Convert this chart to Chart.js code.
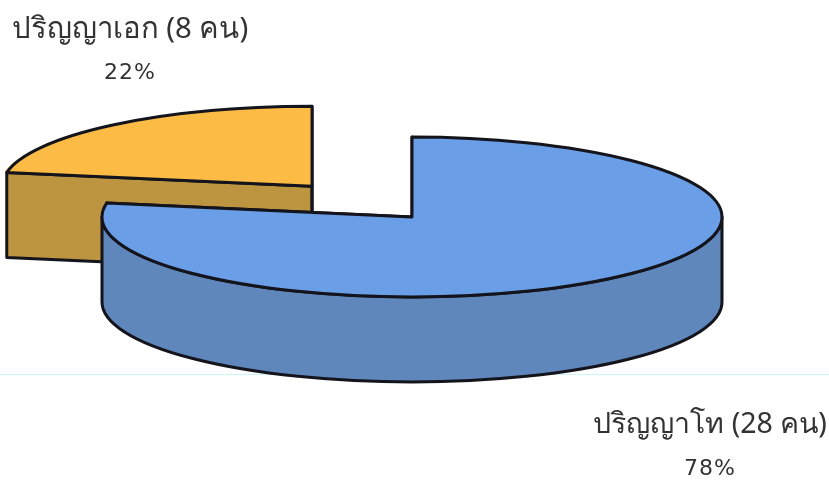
<!DOCTYPE html>
<html>
<head>
<meta charset="utf-8">
<style>
  html, body { margin: 0; padding: 0; background: #fff; }
  canvas { display: block; }
</style>
<script src="https://cdn.jsdelivr.net/npm/chart.js@4"></script>
</head>
<body>
<canvas id="piechart" width="829" height="483"></canvas>
<script>
var categories = ['ปริญญาเอก (8 คน)', 'ปริญญาโท (28 คน)'];
var people = [8, 28];
var percents = ['22%', '78%'];

var squash = 0.258;   // ellipse height / width
var depth = 85;       // wall height in px

function halfAngle(arc) { return (arc.startAngle + arc.endAngle) / 2; }

// centre of a slice after its explode offset, in screen px
function sliceCentre(arc) {
  var off = (arc.options.offset || 0) / 4;
  var a = halfAngle(arc);
  return {
    x: arc.x + Math.cos(a) * off,
    y: arc.y + Math.sin(a) * off * squash
  };
}

function topPath(ctx, arc) {
  var c = sliceCentre(arc), r = arc.outerRadius;
  ctx.beginPath();
  ctx.moveTo(c.x, c.y);
  ctx.ellipse(c.x, c.y, r, r * squash, 0, arc.startAngle, arc.endAngle);
  ctx.closePath();
}

function radialWall(ctx, arc, angle, color) {
  var c = sliceCentre(arc), r = arc.outerRadius;
  var px = c.x + Math.cos(angle) * r, py = c.y + Math.sin(angle) * r * squash;
  ctx.beginPath();
  ctx.moveTo(c.x, c.y);
  ctx.lineTo(px, py);
  ctx.lineTo(px, py + depth);
  ctx.lineTo(c.x, c.y + depth);
  ctx.closePath();
  ctx.fillStyle = color;
  ctx.fill();
  ctx.stroke();
}

function frontWall(ctx, arc, color) {
  var c = sliceCentre(arc), r = arc.outerRadius;
  var a0 = Math.max(arc.startAngle, 0), a1 = Math.min(arc.endAngle, Math.PI);
  if (a1 <= a0) return;
  ctx.beginPath();
  ctx.ellipse(c.x, c.y, r, r * squash, 0, a0, a1);
  ctx.ellipse(c.x, c.y + depth, r, r * squash, 0, a1, a0, true);
  ctx.closePath();
  ctx.fillStyle = color;
  ctx.fill();
  ctx.stroke();
}

var pie3d = {
  id: 'pie3d',
  beforeDraw: function(chart) {
    // faint scan line across the page
    chart.ctx.fillStyle = '#cff3f8';
    chart.ctx.fillRect(0, 374, chart.width, 1);
  },
  beforeDatasetDraw: function(chart, args) {
    var ctx = chart.ctx;
    var wallColors = chart.data.datasets[args.index].wallColor;
    args.meta.data.forEach(function(arc, i) {
      ctx.save();
      ctx.lineWidth = 3;
      ctx.lineJoin = 'round';
      ctx.strokeStyle = '#14141c';
      radialWall(ctx, arc, arc.startAngle, wallColors[i]);
      radialWall(ctx, arc, arc.endAngle, wallColors[i]);
      frontWall(ctx, arc, wallColors[i]);
      ctx.restore();

      // the slice itself, flattened
      ctx.save();
      ctx.translate(0, arc.y);
      ctx.scale(1, squash);
      ctx.translate(0, -arc.y);
      arc.draw(ctx);
      ctx.restore();

      ctx.save();
      ctx.lineWidth = 3;
      ctx.lineJoin = 'round';
      ctx.strokeStyle = '#14141c';
      topPath(ctx, arc);
      ctx.stroke();
      ctx.restore();
    });
    return false;
  },
  afterDraw: function(chart) {
    var ctx = chart.ctx;
    ctx.save();
    ctx.fillStyle = '#333';
    ctx.textAlign = 'center';
    ctx.textBaseline = 'middle';
    ctx.font = '29.3px "Noto Sans", "DejaVu Sans", sans-serif';
    ctx.fillText(categories[0], 130, 30);
    ctx.font = '28.5px "Noto Sans", "DejaVu Sans", sans-serif';
    ctx.fillText(categories[1], 710, 425);
    ctx.font = '22px "DejaVu Sans", sans-serif';
    ctx.letterSpacing = '1px';
    ctx.fillText(percents[0], 130, 73);
    ctx.fillText(percents[1], 710, 469);
    ctx.restore();
  }
};

var ctx = document.getElementById('piechart').getContext('2d');
var myChart = new Chart(ctx, {
  type: 'pie',
  data: {
    labels: categories,
    datasets: [{
      data: people,
      backgroundColor: ['#fbbb44', '#6a9ee6'],
      wallColor: ['#bd9540', '#5f87bb'],
      borderWidth: 0,
      offset: [622, 0],
      clip: false
    }]
  },
  options: {
    responsive: false,
    animation: false,
    events: [],
    rotation: -80,
    radius: 310,
    cutout: '0%',
    layout: { padding: { right: 5, bottom: 49 } },
    plugins: {
      legend: { display: false },
      tooltip: { enabled: false }
    }
  },
  plugins: [pie3d]
});
</script>
</body>
</html>
